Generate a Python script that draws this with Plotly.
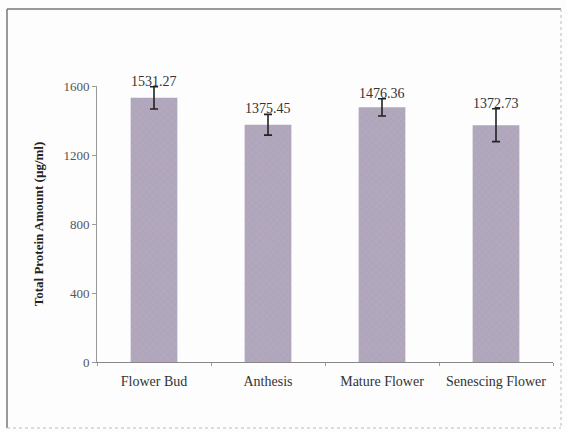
import plotly.graph_objects as go

categories = ["Flower Bud", "Anthesis", "Mature Flower", "Senescing Flower"]
protein = [1531.27, 1375.45, 1476.36, 1372.73]
errors = [65, 60, 50, 95]
value_labels = ["1531.27", "1375.45", "1476.36", "1372.73"]
y_ticks = [0, 400, 800, 1200, 1600]

W, H = 567, 432
ML, MR, MT, MB = 97, 14, 86, 70
PW, PH = W - ML - MR, H - MT - MB

def px_x(p):
    return (p - ML) / PW

def px_y(p):
    return (H - MB - p) / PH

serif = "Liberation Serif, Times New Roman, serif"

fig = go.Figure()
fig.add_trace(go.Bar(
    x=categories, y=protein,
    width=0.41,
    marker=dict(
        color="#b8a6b9",
        line=dict(width=0),
        pattern=dict(shape="x", fgcolor="#93a8c8", size=5, solidity=0.4),
    ),
    error_y=dict(type="data", array=errors, visible=True,
                 color="#222222", thickness=1.6, width=4),
    hoverinfo="skip",
))

for c, v, e, t in zip(categories, protein, errors, value_labels):
    fig.add_annotation(x=c, y=v + e, text=t, showarrow=False,
                       yanchor="bottom", yshift=-4,
                       font=dict(family=serif, size=14, color="#333333"))

# outer border of the chart area
fig.add_shape(type="line", xref="paper", yref="paper",
              x0=px_x(7), x1=px_x(7), y0=px_y(9), y1=px_y(428),
              line=dict(color="#777777", width=1.5))
fig.add_shape(type="line", xref="paper", yref="paper",
              x0=px_x(7), x1=px_x(561), y0=px_y(9), y1=px_y(9),
              line=dict(color="#777777", width=1.5))
fig.add_shape(type="line", xref="paper", yref="paper",
              x0=px_x(561), x1=px_x(561), y0=px_y(9), y1=px_y(428),
              line=dict(color="#bbbbbb", width=1, dash="dot"))
fig.add_shape(type="line", xref="paper", yref="paper",
              x0=px_x(7), x1=px_x(561), y0=px_y(428), y1=px_y(428),
              line=dict(color="#bbbbbb", width=1, dash="dot"))

fig.update_layout(
    width=W, height=H,
    margin=dict(l=ML, r=MR, t=MT, b=MB),
    paper_bgcolor="#fdfdfd", plot_bgcolor="#fdfdfd",
    showlegend=False,
    font=dict(family=serif, size=13, color="#444444"),
    xaxis=dict(
        showline=True, linecolor="#888888", linewidth=1,
        ticks="outside", ticklen=3, tickcolor="#999999", tickson="boundaries",
        tickfont=dict(family=serif, size=14, color="#333333"),
        ticklabelstandoff=6,
        showgrid=False,
    ),
    yaxis=dict(
        range=[0, 1600], tickvals=y_ticks,
        showline=True, linecolor="#999999", linewidth=1,
        ticks="outside", ticklen=4, tickcolor="#999999",
        showgrid=False, zeroline=False,
        tickfont=dict(family=serif, size=13, color="#555555"),
        title=dict(text="<b>Total Protein Amount (µg/ml)</b>",
                   font=dict(family=serif, size=13, color="#222222"),
                   standoff=16),
    ),
)

fig.write_html("out.html")
